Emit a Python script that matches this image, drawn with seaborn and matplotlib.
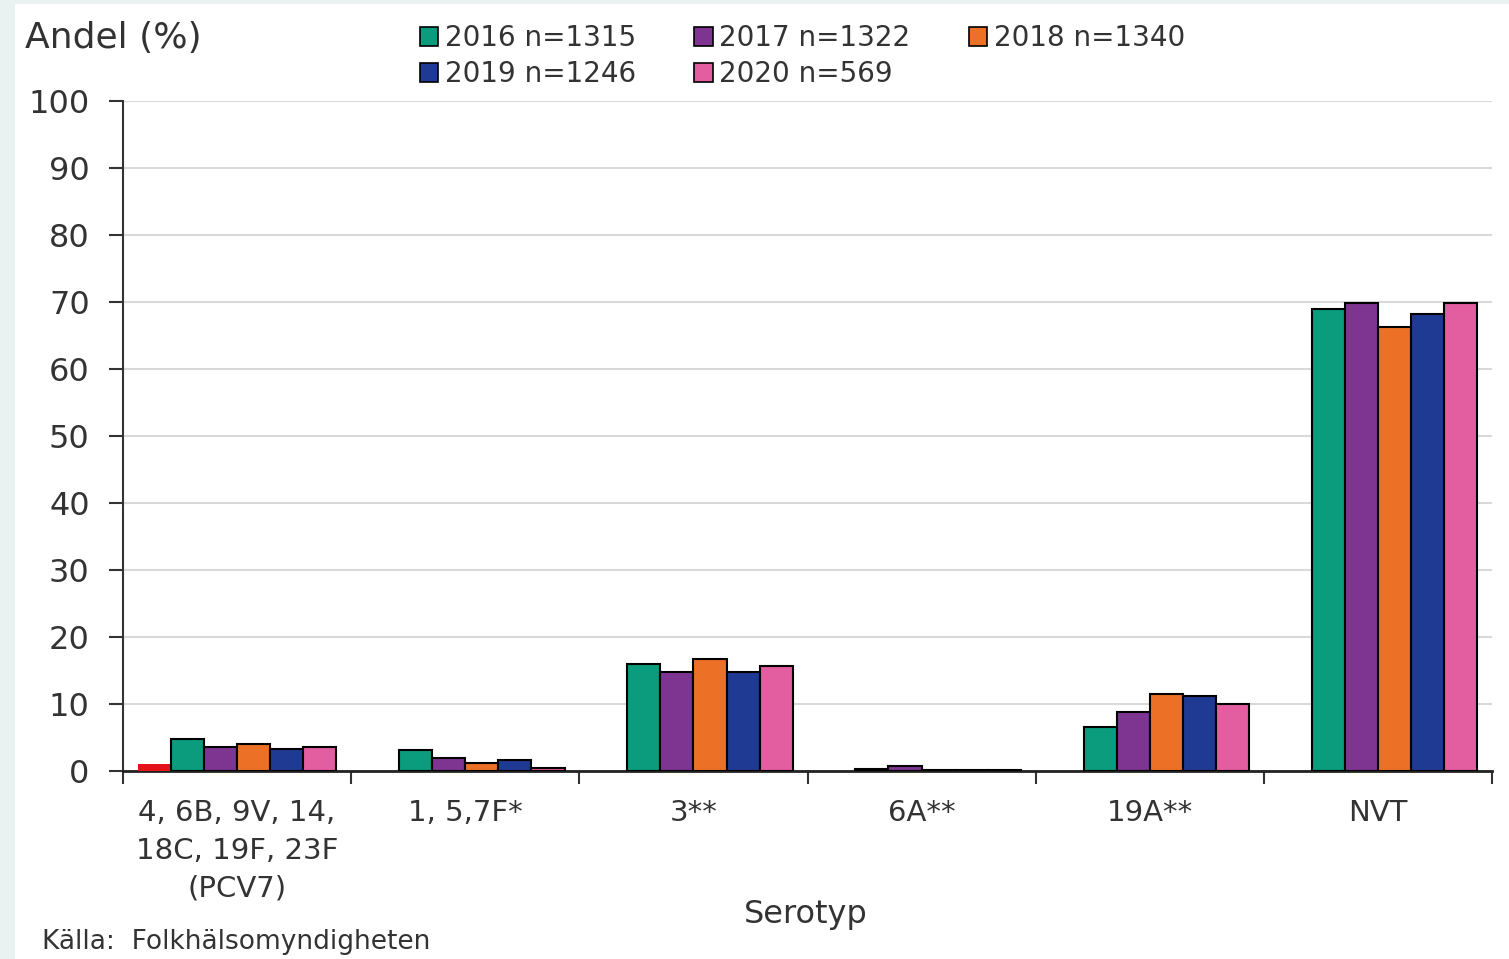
import numpy as np
import pandas as pd
import matplotlib
matplotlib.use("Agg")
import matplotlib.pyplot as plt
from matplotlib.patches import Patch, Rectangle
import seaborn as sns

# Serotype groups (x axis)
categories = ["4, 6B, 9V, 14,\n18C, 19F, 23F\n(PCV7)", "1, 5,7F*", "3**", "6A**", "19A**", "NVT"]

# Share (%) per year
extra_red = [1.0, np.nan, np.nan, np.nan, np.nan, np.nan]
y2016 = [4.8, 3.2, 16.0, 0.3, 6.5, 69.0]
y2017 = [3.6, 2.0, 14.8, 0.8, 8.8, 69.8]
y2018 = [4.0, 1.2, 16.7, 0.2, 11.5, 66.2]
y2019 = [3.3, 1.7, 14.8, 0.2, 11.2, 68.2]
y2020 = [3.6, 0.4, 15.6, 0.2, 10.0, 69.8]

series_names = ["övrigt", "2016 n=1315", "2017 n=1322", "2018 n=1340", "2019 n=1246", "2020 n=569"]
series_values = [extra_red, y2016, y2017, y2018, y2019, y2020]
colors = ["#e3121b", "#0b9b7d", "#7e3591", "#ec7126", "#1f3a92", "#e25ea0"]

rows = []
for name, vals in zip(series_names, series_values):
    for cat, v in zip(categories, vals):
        if not np.isnan(v):
            rows.append({"Serotyp": cat, "Serie": name, "Andel": v})
df = pd.DataFrame(rows)

sns.set_style("white")
plt.rcParams["font.family"] = ["DejaVu Sans"]

fig = plt.figure(figsize=(15.09, 9.59), dpi=100, facecolor="#eaf1f1")
# white panel inside the light frame
fig.patches.append(Rectangle((15 / 1509, 0), 1 - 15 / 1509, 1 - 4 / 959,
                             transform=fig.transFigure, facecolor="white",
                             edgecolor="none", zorder=-5))

ax = fig.add_axes([123 / 1509, 1 - 771 / 959, (1492 - 123) / 1509, (771 - 101) / 959])
ax.set_facecolor("white")

sns.barplot(data=df, x="Serotyp", y="Andel", hue="Serie", order=categories,
            hue_order=series_names, palette=colors, width=0.87,
            edgecolor="black", linewidth=1.5, saturation=1, legend=False, ax=ax,
            zorder=3)

# the red bar has no outline
for patch in ax.patches:
    fc = patch.get_facecolor()
    if fc[0] > 0.85 and fc[1] < 0.2 and fc[2] < 0.2:
        patch.set_linewidth(0)

ax.set_xlim(-0.5, len(categories) - 0.5)
ax.set_ylim(0, 100)
ax.set_yticks(range(0, 101, 10))
ax.yaxis.grid(True, color="#d9d9d9", linewidth=1.5, zorder=0)
ax.set_axisbelow(True)

ax.set_xticks(range(len(categories)))
ax.set_xticklabels(categories, fontsize=21, color="#333333", linespacing=1.45)
ax.tick_params(axis="x", which="major", length=0, pad=20)
ax.set_xticks(np.arange(-0.5, len(categories), 1.0), minor=True)
ax.tick_params(axis="x", which="minor", bottom=True, length=9, width=1.5,
               color="#333333", direction="out")
ax.tick_params(axis="y", left=True, length=10, width=1.5, color="#333333", labelsize=23,
               labelcolor="#333333", pad=14, direction="out")

for s in ["top", "right"]:
    ax.spines[s].set_visible(False)
ax.spines["left"].set_color("#333333")
ax.spines["left"].set_linewidth(1.5)
ax.spines["bottom"].set_color("#222222")
ax.spines["bottom"].set_linewidth(2)

ax.set_xlabel("")
ax.set_ylabel("")

fig.text(25 / 1509, 1 - 38 / 959, "Andel (%)", fontsize=26, color="#333333",
         ha="left", va="center")
fig.text(806 / 1509, 1 - 915 / 959, "Serotyp", fontsize=23, color="#333333",
         ha="center", va="center")
fig.text(42 / 1509, 1 - 942 / 959, "Källa:  Folkhälsomyndigheten", fontsize=19,
         color="#333333", ha="left", va="center")

# legend: years only, filled row by row
leg_idx = [1, 4, 2, 5, 3]
handles = [Patch(facecolor=colors[i], edgecolor="black", linewidth=1.2,
                 label=series_names[i]) for i in leg_idx]
fig.legend(handles=handles, ncol=3, loc="upper left",
           bbox_to_anchor=(420 / 1509, 1 - 24 / 959), frameon=False,
           fontsize=20, handlelength=0.65, handleheight=0.65, handletextpad=0.25,
           columnspacing=2.1, labelspacing=0.3, borderpad=0, borderaxespad=0,
           labelcolor="#333333")

fig.savefig("out.png", dpi=100, facecolor=fig.get_facecolor())
